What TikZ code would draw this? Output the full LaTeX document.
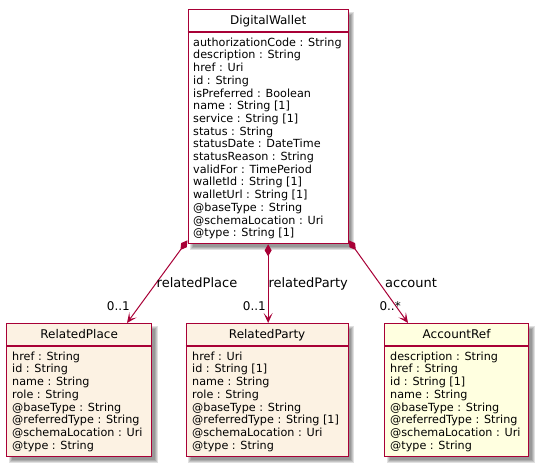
\documentclass[tikz,border=0pt]{standalone}
\usepackage{fontspec}
\setmainfont{DejaVu Sans}
\usetikzlibrary{arrows.meta,calc}

\definecolor{umlborder}{HTML}{A80036}
\definecolor{reffill}{HTML}{FCF2E3}
\definecolor{entityfill}{HTML}{FFFFE0}

\pgfdeclarelayer{shadowlayer}
\pgfsetlayers{shadowlayer,main}

\tikzset{
  classbox/.style={draw=umlborder, line width=1.3pt, rectangle, inner sep=0pt,
                   anchor=north west},
  classtitle/.style={font=\fontsize{12}{14}\selectfont, inner sep=0pt, anchor=base},
  attrs/.style={font=\fontsize{11.2}{12.7}\selectfont, align=left, inner sep=0pt,
                anchor=north west},
  sepline/.style={draw=umlborder, line width=1.3pt},
  composition/.style={draw=umlborder, line width=1pt,
                      {Diamond[length=12pt,width=7pt,fill=umlborder]}-{Stealth[length=10pt,width=9pt,inset=5pt]}},
  rolelabel/.style={font=\fontsize{13}{15}\selectfont, inner sep=0pt, anchor=base west},
  multlabel/.style={font=\fontsize{12}{14}\selectfont, inner sep=0pt, anchor=base west},
}

% soft drop shadow behind a class box
\newcommand\classshadow[1]{%
  \begin{pgfonlayer}{shadowlayer}
    \foreach \g in {-1.5,-0.5,0.5,1.5}{
      \fill[black, opacity=0.12]
        ($(#1.north west)+(4-\g,4-\g)$) rectangle ($(#1.south east)+(4+\g,4+\g)$);
    }
  \end{pgfonlayer}}

\begin{document}
\begin{tikzpicture}[x=1pt, y=-1pt]
  \useasboundingbox (0,0) rectangle (538,466);

  % DigitalWallet
  \node[classbox, fill=white, minimum width=160pt, minimum height=234pt] (dw) at (187.5,9) {};
  \classshadow{dw}
  \draw[sepline] ($(dw.north west)+(0,23)$) -- ($(dw.north east)+(0,23)$);
  \node[classtitle] (dw-title) at ($(dw.north)+(0,15.4)$) {DigitalWallet};
  \node[attrs] (dw-attrs) at ($(dw.north west)+(5.5,28.5)$) {%
    authorizationCode : String\\
    description : String\\
    href : Uri\\
    id : String\\
    isPreferred : Boolean\\
    name : String [1]\\
    service : String [1]\\
    status : String\\
    statusDate : DateTime\\
    statusReason : String\\
    validFor : TimePeriod\\
    walletId : String [1]\\
    walletUrl : String [1]\\
    @baseType : String\\
    @schemaLocation : Uri\\
    @type : String [1]};

  % RelatedPlace
  \node[classbox, fill=reffill, minimum width=145pt, minimum height=133pt] (rplace) at (6,323) {};
  \classshadow{rplace}
  \draw[sepline] ($(rplace.north west)+(0,23)$) -- ($(rplace.north east)+(0,23)$);
  \node[classtitle] (rplace-title) at ($(rplace.north)+(0,15.4)$) {RelatedPlace};
  \node[attrs] (rplace-attrs) at ($(rplace.north west)+(6,28.5)$) {%
    href : String\\
    id : String\\
    name : String\\
    role : String\\
    @baseType : String\\
    @referredType : String\\
    @schemaLocation : Uri\\
    @type : String};

  % RelatedParty
  \node[classbox, fill=reffill, minimum width=162pt, minimum height=133pt] (rparty) at (185.5,323) {};
  \classshadow{rparty}
  \draw[sepline] ($(rparty.north west)+(0,23)$) -- ($(rparty.north east)+(0,23)$);
  \node[classtitle] (rparty-title) at ($(rparty.north)+(0,15.4)$) {RelatedParty};
  \node[attrs] (rparty-attrs) at ($(rparty.north west)+(6.5,28.5)$) {%
    href : Uri\\
    id : String [1]\\
    name : String\\
    role : String\\
    @baseType : String\\
    @referredType : String [1]\\
    @schemaLocation : Uri\\
    @type : String};

  % AccountRef
  \node[classbox, fill=entityfill, minimum width=144pt, minimum height=133pt] (acc) at (384,323) {};
  \classshadow{acc}
  \draw[sepline] ($(acc.north west)+(0,23)$) -- ($(acc.north east)+(0,23)$);
  \node[classtitle] (acc-title) at ($(acc.north)+(0,15.4)$) {AccountRef};
  \node[attrs] (acc-attrs) at ($(acc.north west)+(6,28.5)$) {%
    description : String\\
    href : String\\
    id : String [1]\\
    name : String\\
    @baseType : String\\
    @referredType : String\\
    @schemaLocation : Uri\\
    @type : String};

  % compositions
  \draw[composition] ($(dw.south west)+(0,-4)$) -- ($(rplace.north west)+(121,0)$);
  \draw[composition] (dw.south) -- (dw.south |- rparty.north);
  \draw[composition] ($(dw.south east)+(0,-4)$) -- ($(acc.north west)+(24,0)$);

  % role names and multiplicities
  \node[rolelabel] (lbl-place) at (156.5,287.5) {relatedPlace};
  \node[rolelabel] (lbl-party) at (268.3,287.5) {relatedParty};
  \node[rolelabel] (lbl-account) at (385,287.5) {account};
  \node[multlabel] (mult-place) at (106.7,310) {0..1};
  \node[multlabel] (mult-party) at (242.7,310) {0..1};
  \node[multlabel] (mult-account) at (379.3,310) {0..*};
\end{tikzpicture}
\end{document}
